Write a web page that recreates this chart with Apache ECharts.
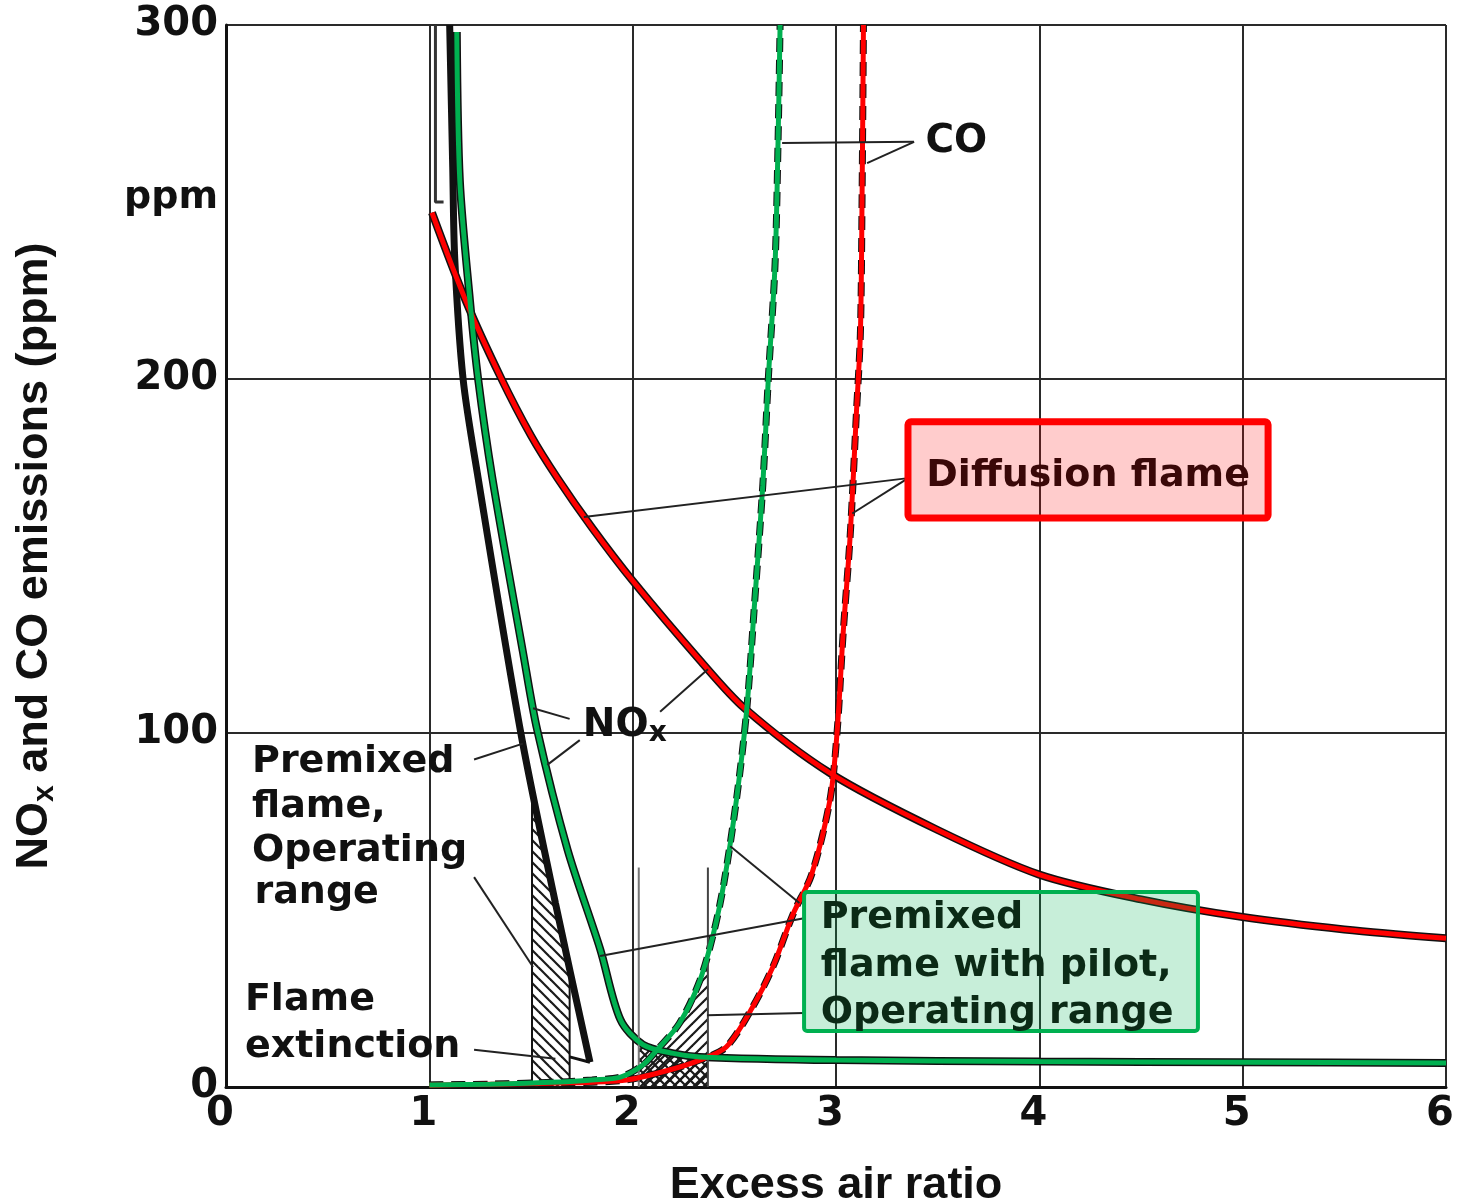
<!DOCTYPE html>
<html>
<head>
<meta charset="utf-8">
<script src="https://cdn.jsdelivr.net/npm/echarts@6/dist/echarts.min.js"></script>
<style>
  html, body { margin: 0; padding: 0; background: #fff; }
  #c { width: 1457px; height: 1204px; }
</style>
</head>
<body>
<div id="c"></div>
<script>
// Emissions versus excess air ratio (x) in ppm (y)

// Diffusion flame: NOx and CO
const diffusionNox = [[1.013, 247], [1.18, 222], [1.35, 200.6], [1.5, 184], [1.63, 172], [1.8, 158],
  [2.0, 143], [2.33, 120.6], [2.55, 107], [2.97, 88.7], [3.5, 72.6], [4, 60], [4.5, 53], [5, 48],
  [5.5, 44.5], [6, 42]];
const diffusionCo = [[1.0, 0.5], [1.64, 1.1], [1.97, 2], [2.18, 4.8], [2.33, 7.6], [2.46, 11.3],
  [2.59, 22.6], [2.69, 34], [2.79, 49], [2.88, 60], [2.97, 81], [3.005, 100], [3.035, 128],
  [3.07, 156], [3.10, 190], [3.12, 213], [3.128, 250], [3.135, 300]];
// Short vertical stub where the diffusion NOx curve enters from the top
const diffusionHead = [[1.03, 300], [1.03, 250], [1.07, 250]];

// Premixed flame NOx (ends at flame extinction)
const premixedNox = [[1.10, 300], [1.115, 260], [1.125, 234], [1.166, 200], [1.24, 172],
  [1.45, 100], [1.62, 52], [1.79, 7]];
const extinctionBase = [[1.69, 8.5], [1.79, 7]];

// Premixed flame with pilot: NOx and CO
const pilotNox = [[1.135, 298], [1.15, 256], [1.20, 222], [1.24, 200], [1.31, 172], [1.46, 123],
  [1.53, 101], [1.68, 67], [1.84, 39], [1.94, 19], [2.05, 12], [2.2, 9.5], [2.33, 8.5],
  [3, 7.6], [4, 7.2], [5, 7], [6, 6.8]];
const pilotCo = [[1.0, 0.6], [1.3, 0.8], [1.64, 1.4], [1.8, 2], [1.94, 2.8], [2.05, 6.2],
  [2.12, 10.5], [2.23, 18], [2.33, 30], [2.40, 44], [2.45, 58], [2.51, 81], [2.56, 106],
  [2.60, 137], [2.64, 170], [2.667, 200], [2.70, 232], [2.715, 267], [2.725, 300]];

// Operating ranges (x limits) and marker height of the pilot range
const premixedRange = [1.505, 1.69];
const pilotRange = [2.03, 2.37];
const pilotRangeTop = 62;

// Axis ticks
const xTicks = [0, 1, 2, 3, 4, 5, 6];
const yTicks = [0, 100, 200, 300];

// Part of a curve between x0 and x1, with interpolated end points
function sliceCurve(curve, x0, x1) {
  const at = x => {
    for (let i = 0; i < curve.length - 1; i++) {
      const a = curve[i], b = curve[i + 1];
      if (x >= a[0] && x <= b[0]) return a[1] + (b[1] - a[1]) * (x - a[0]) / (b[0] - a[0]);
    }
    return curve[curve.length - 1][1];
  };
  const out = [[x0, at(x0)]];
  curve.forEach(p => { if (p[0] > x0 && p[0] < x1) out.push(p); });
  out.push([x1, at(x1)]);
  return out;
}

// Hatch fills
function hatch(dir, step, width) {
  const c = document.createElement('canvas');
  c.width = step; c.height = step;
  const g = c.getContext('2d');
  g.strokeStyle = '#1a1a1a'; g.lineWidth = width;
  const seg = (x1, y1, x2, y2) => { g.beginPath(); g.moveTo(x1, y1); g.lineTo(x2, y2); g.stroke(); };
  if (dir === '/' || dir === 'x') { seg(-step, step, step, -step); seg(0, step, step, 0); seg(0, 2 * step, 2 * step, 0); }
  if (dir === '\\' || dir === 'x') { seg(0, 0, step, step); seg(-step, 0, step, 2 * step); seg(0, -step, 2 * step, step); }
  return { image: c, repeat: 'repeat' };
}

const FONT = 'DejaVu Sans';
const TITLE_FONT = 'Liberation Sans';
const RED = '#ff0000', GREEN = '#00b050', INK = '#111';
const SMOOTH = 0.3;

function inkLine(data, width, dashed) {
  return {
    type: 'line', data, showSymbol: false, silent: true, smooth: SMOOTH,
    lineStyle: { color: INK, width, type: dashed ? [14, 8] : 'solid' }
  };
}
function colorLine(data, color, width) {
  return {
    type: 'line', data, showSymbol: false, silent: true, smooth: SMOOTH,
    lineStyle: { color, width }
  };
}
function straight(data, color, width) {
  return { type: 'line', data, showSymbol: false, silent: true, lineStyle: { color, width } };
}
function hatchArea(data, pattern) {
  return {
    type: 'line', data, showSymbol: false, silent: true, smooth: SMOOTH,
    lineStyle: { width: 0 }, areaStyle: { color: pattern, opacity: 1 }
  };
}

const premixedHatch = sliceCurve(premixedNox, premixedRange[0], premixedRange[1]);
const pilotHatch = sliceCurve(pilotCo, pilotRange[0], pilotRange[1]);
const pilotCross = sliceCurve(pilotNox, pilotRange[0], pilotRange[1]);

const option = {
  animation: false,
  backgroundColor: '#fff',
  grid: { left: 226, right: 11, top: 25, bottom: 117, containLabel: false, outerBoundsMode: 'none' },
  xAxis: {
    type: 'value', min: xTicks[0], max: xTicks[xTicks.length - 1], interval: 1,
    name: 'Excess air ratio', nameLocation: 'middle', nameGap: 76,
    nameTextStyle: { fontFamily: TITLE_FONT, fontWeight: 'bold', fontSize: 45, color: '#111' },
    axisLine: { show: true, lineStyle: { color: INK, width: 3 } },
    axisTick: { show: false },
    axisLabel: { fontFamily: FONT, fontWeight: 'bold', fontSize: 40, color: '#111', margin: 8, padding: [0, 12, 0, 0] },
    splitLine: { show: true, lineStyle: { color: '#2a2a2a', width: 2 } }
  },
  yAxis: {
    type: 'value', min: yTicks[0], max: yTicks[yTicks.length - 1], interval: 100,
    name: '{a|NO}{s|x}{a| and CO emissions (ppm)}', nameLocation: 'middle', nameRotate: 90, nameGap: 166,
    nameTextStyle: {
      fontFamily: TITLE_FONT, fontWeight: 'bold', color: '#111', padding: [0, 0, 0, 0],
      rich: {
        a: { fontFamily: TITLE_FONT, fontWeight: 'bold', fontSize: 45, color: '#111', lineHeight: 50 },
        s: { fontFamily: TITLE_FONT, fontWeight: 'bold', fontSize: 30, color: '#111', lineHeight: 22, verticalAlign: 'bottom' }
      }
    },
    axisLine: { show: true, lineStyle: { color: INK, width: 3 } },
    axisTick: { show: false },
    axisLabel: { fontFamily: FONT, fontWeight: 'bold', fontSize: 40, color: '#111', margin: 8 },
    splitLine: { show: true, lineStyle: { color: '#2a2a2a', width: 2 } }
  },
  series: [
    // original ink curves
    inkLine(diffusionNox, 8),
    straight(diffusionHead, '#333', 3),
    inkLine(premixedNox, 7),
    inkLine(pilotNox, 8),
    inkLine(pilotCo, 7, true),
    inkLine(diffusionCo, 7, true),
    // operating ranges
    hatchArea(premixedHatch, hatch('\\', 11, 2.2)),
    straight([[premixedRange[0], 0], premixedHatch[0]], INK, 2),
    straight([[premixedRange[1], 0], premixedHatch[premixedHatch.length - 1]], INK, 2),
    straight(extinctionBase, INK, 3),
    hatchArea(pilotHatch, hatch('/', 11, 2.2)),
    hatchArea(pilotCross, hatch('x', 10, 2.2)),
    straight([[pilotRange[0], 0], [pilotRange[0], pilotRangeTop]], '#777', 2),
    straight([[pilotRange[1], 0], [pilotRange[1], pilotRangeTop]], '#444', 2),
    // highlighted curves
    colorLine(diffusionNox, RED, 5),
    colorLine(diffusionCo, RED, 5),
    colorLine(pilotNox, GREEN, 5),
    colorLine(pilotCo, GREEN, 5)
  ]
};

const chart = echarts.init(document.getElementById('c'), null, { renderer: 'canvas' });
chart.setOption(option);

const P = p => chart.convertToPixel({ gridIndex: 0 }, p);

// Leader lines (data coordinates: from label side to curve)
const leaders = [
  [[3.384, 267], [2.735, 266.7]], [[3.384, 267], [3.153, 261]],
  [[3.355, 172], [1.76, 161]], [[3.355, 172], [3.08, 162]],
  [[1.69, 104], [1.51, 107]], [[1.74, 98], [1.58, 91]], [[2.135, 106], [2.37, 118]],
  [[1.22, 92.5], [1.46, 97]],
  [[1.22, 59.3], [1.51, 33.9]],
  [[1.22, 10.5], [1.62, 8]],
  [[2.843, 47.7], [1.84, 37]], [[2.82, 52], [2.48, 68]], [[2.843, 20.9], [2.366, 20.3]]
];

const graphics = [];
leaders.forEach(([a, b]) => {
  const pa = P(a), pb = P(b);
  graphics.push({ type: 'line', z: 50, silent: true,
    shape: { x1: pa[0], y1: pa[1], x2: pb[0], y2: pb[1] },
    style: { stroke: '#222', lineWidth: 2 } });
});

function label(text, at, opts) {
  const p = P(at);
  graphics.push({ type: 'text', z: 120, silent: true, x: p[0] + (opts.dx || 0), y: p[1],
    style: Object.assign({ text, fontFamily: FONT, fontWeight: 'bold', fontSize: 38,
      fill: '#111', align: 'left', verticalAlign: 'middle' }, opts.style || {}) });
}
function box(tl, br, fill, stroke, lw) {
  const a = P(tl), b = P(br);
  graphics.push({ type: 'rect', z: 110, silent: true,
    shape: { x: a[0], y: a[1], width: b[0] - a[0], height: b[1] - a[1], r: 3 },
    style: { fill, stroke, lineWidth: lw } });
}

// unit next to the y axis
label('ppm', [0, 251], { dx: -8, style: { align: 'right', fontSize: 38 } });

label('CO', [3.44, 267], { style: { fontSize: 39 } });
label('{a|NO}{s|x}', [1.755, 102], { style: { rich: {
  a: { fontFamily: FONT, fontWeight: 'bold', fontSize: 39, fill: '#111', lineHeight: 44 },
  s: { fontFamily: FONT, fontWeight: 'bold', fontSize: 28, fill: '#111', lineHeight: 18, verticalAlign: 'bottom' }
} } });

label('Premixed', [0.128, 91.8], {});
label('flame,', [0.128, 79.1], {});
label('Operating', [0.128, 66.7], {});
label('range', [0.14, 54.8], {});
label('Flame', [0.093, 24.6], {});
label('extinction', [0.093, 11.3], {});

box([3.354, 187.9], [5.125, 160.7], 'rgba(255,0,0,0.2)', RED, 7);
label('Diffusion flame', [4.24, 172.6], { style: { align: 'center', fontSize: 38, fill: '#3a0808' } });

box([2.843, 55.1], [4.78, 15.8], 'rgba(0,176,80,0.22)', GREEN, 4);
label('Premixed', [2.925, 47.7], { style: { fill: '#0b2a16' } });
label('flame with pilot,', [2.925, 34.2], { style: { fill: '#0b2a16' } });
label('Operating range', [2.925, 20.9], { style: { fill: '#0b2a16' } });

chart.setOption({ graphic: graphics });
</script>
</body>
</html>
